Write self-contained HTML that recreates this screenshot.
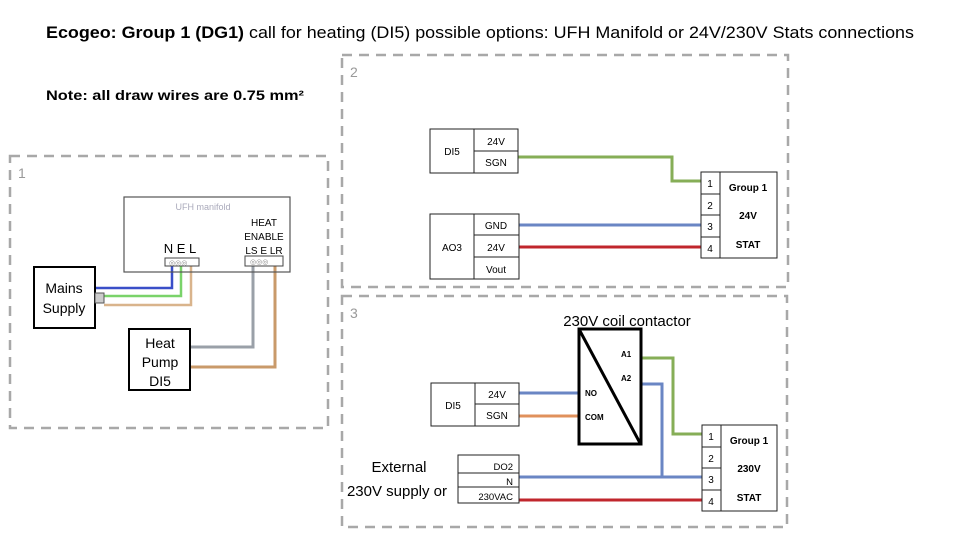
<!DOCTYPE html>
<html><head><meta charset="utf-8"><style>
html,body{margin:0;padding:0;background:#fff;}
svg{display:block;font-family:"Liberation Sans",sans-serif;}
</style></head><body>
<svg width="960" height="540" viewBox="0 0 960 540" xmlns="http://www.w3.org/2000/svg">
<rect width="960" height="540" fill="#fff"/>
<text x="46" y="38" font-size="17" fill="#000" textLength="868" lengthAdjust="spacingAndGlyphs"><tspan font-weight="bold">Ecogeo: Group 1 (DG1)</tspan> call for heating (DI5) possible options: UFH Manifold or 24V/230V Stats connections</text>
<text x="46" y="100" font-size="14" font-weight="bold" fill="#000" textLength="258" lengthAdjust="spacingAndGlyphs">Note: all draw wires are  0.75 mm²</text>

<g fill="none" stroke="#a8a8a8" stroke-width="2.5" stroke-dasharray="10,7">
<rect x="10" y="156" width="318" height="272"/>
<rect x="342" y="55" width="446" height="232"/>
<rect x="342" y="296" width="445" height="231"/>
</g>
<g fill="#999" font-size="14"><text x="18" y="178">1</text><text x="350" y="77">2</text><text x="350" y="318">3</text></g>

<!-- Box 1 -->
<g fill="none" stroke-width="2.5">
<polyline points="96,288 172,288 172,264" stroke="#3a4fc8"/>
<polyline points="104,296 181,296 181,264" stroke="#7ad36a"/>
<polyline points="104,305 191,305 191,264" stroke="#d9b48c"/>
<polyline points="190,347 253,347 253,264" stroke="#9aa0a8" stroke-width="3"/>
<polyline points="190,367 275,367 275,264" stroke="#c99a6a" stroke-width="3"/>
</g>
<rect x="124" y="197" width="166" height="75" fill="none" stroke="#555" stroke-width="1.2"/>
<text x="203" y="210" font-size="9" fill="#aab" text-anchor="middle">UFH manifold</text>
<g font-size="10" text-anchor="middle" fill="#000"><text x="264" y="226">HEAT</text><text x="264" y="240">ENABLE</text><text x="264" y="254">LS E LR</text></g>
<text x="180" y="253" font-size="13" text-anchor="middle">N E L</text>
<rect x="165" y="258" width="34" height="8" fill="#fff" stroke="#444"/>
<rect x="245" y="256" width="38" height="10" fill="#fff" stroke="#444"/>
<g fill="#888" font-size="7"><text x="169" y="265">◎◎◎</text><text x="250" y="264">◎◎◎</text></g>
<rect x="34" y="267" width="61" height="61" fill="#fff" stroke="#000" stroke-width="2"/>
<rect x="95" y="293" width="9" height="10" fill="#ccc" stroke="#555"/>
<g font-size="14" text-anchor="middle"><text x="64" y="293">Mains</text><text x="64" y="313">Supply</text></g>
<rect x="129" y="329" width="61" height="61" fill="#fff" stroke="#000" stroke-width="2"/>
<g font-size="14" text-anchor="middle"><text x="160" y="348">Heat</text><text x="160" y="367">Pump</text><text x="160" y="386">DI5</text></g>

<!-- Box 2 -->
<g fill="none" stroke-width="3">
<polyline points="518,157 672,157 672,181 702,181" stroke="#86ae57"/>
<line x1="519" y1="225" x2="701" y2="225" stroke="#6a86c4"/>
<line x1="519" y1="247" x2="701" y2="247" stroke="#c0262c"/>
</g>
<g fill="#fff" stroke="#222" stroke-width="1">
<rect x="430" y="129" width="88" height="44"/><line x1="474" y1="129" x2="474" y2="173"/><line x1="474" y1="151" x2="518" y2="151"/>
<rect x="430" y="214" width="89" height="65"/><line x1="474" y1="214" x2="474" y2="279"/><line x1="474" y1="235" x2="519" y2="235"/><line x1="474" y1="257" x2="519" y2="257"/>
<rect x="701" y="172" width="76" height="86"/><line x1="720" y1="172" x2="720" y2="258"/><line x1="701" y1="194" x2="720" y2="194"/><line x1="701" y1="215" x2="720" y2="215"/><line x1="701" y1="237" x2="720" y2="237"/>
</g>
<g font-size="10" text-anchor="middle">
<text x="452" y="155">DI5</text><text x="496" y="145">24V</text><text x="496" y="166">SGN</text>
<text x="452" y="251">AO3</text><text x="496" y="229">GND</text><text x="496" y="251">24V</text><text x="496" y="273">Vout</text>
<text x="710" y="187">1</text><text x="710" y="209">2</text><text x="710" y="230">3</text><text x="710" y="252">4</text>
</g>
<g font-size="10" font-weight="bold" text-anchor="middle"><text x="748" y="191">Group 1</text><text x="748" y="219">24V</text><text x="748" y="248">STAT</text></g>

<!-- Box 3 -->
<g fill="none" stroke-width="3">
<line x1="519" y1="393" x2="579" y2="393" stroke="#6a86c4"/>
<line x1="519" y1="416" x2="579" y2="416" stroke="#e0915c"/>
<polyline points="641,358 673,358 673,434 702,434" stroke="#86ae57"/>
<polyline points="641,384 662,384 662,477" stroke="#6a86c4"/>
<line x1="519" y1="477" x2="702" y2="477" stroke="#6a86c4"/>
<line x1="519" y1="500" x2="702" y2="500" stroke="#c0262c"/>
</g>
<rect x="579" y="329" width="62" height="115" fill="#fff" stroke="#000" stroke-width="3"/>
<line x1="580" y1="331" x2="640" y2="443" stroke="#000" stroke-width="3"/>
<text x="627" y="326" font-size="15" text-anchor="middle">230V coil  contactor</text>
<g font-size="8" font-weight="bold"><text x="621" y="357">A1</text><text x="621" y="381">A2</text><text x="585" y="396">NO</text><text x="585" y="420">COM</text></g>
<g fill="#fff" stroke="#222" stroke-width="1">
<rect x="431" y="383" width="88" height="43"/><line x1="475" y1="383" x2="475" y2="426"/><line x1="475" y1="404" x2="519" y2="404"/>
<rect x="458" y="455" width="61" height="48"/><line x1="458" y1="473" x2="519" y2="473"/><line x1="458" y1="487" x2="519" y2="487"/>
<rect x="702" y="425" width="75" height="86"/><line x1="721" y1="425" x2="721" y2="511"/><line x1="702" y1="447" x2="721" y2="447"/><line x1="702" y1="468" x2="721" y2="468"/><line x1="702" y1="490" x2="721" y2="490"/>
</g>
<g font-size="10" text-anchor="middle">
<text x="453" y="409">DI5</text><text x="497" y="398">24V</text><text x="497" y="419">SGN</text>
<text x="711" y="440">1</text><text x="711" y="462">2</text><text x="711" y="483">3</text><text x="711" y="505">4</text>
</g>
<g font-size="9.5" text-anchor="end"><text x="513" y="470">DO2</text><text x="513" y="485">N</text><text x="513" y="500">230VAC</text></g>
<g font-size="10" font-weight="bold" text-anchor="middle"><text x="749" y="444">Group 1</text><text x="749" y="472">230V</text><text x="749" y="501">STAT</text></g>
<g font-size="15" text-anchor="middle"><text x="399" y="472">External</text><text x="397" y="496">230V supply or</text></g>
</svg>
</body></html>
